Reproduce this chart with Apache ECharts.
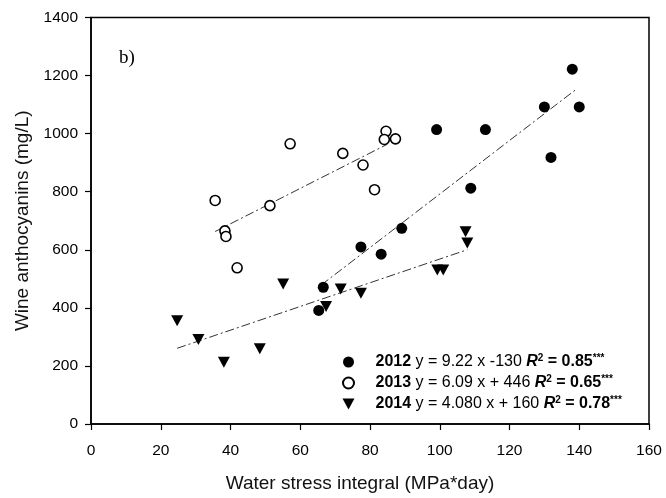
<!DOCTYPE html>
<html>
<head>
<meta charset="utf-8">
<script src="https://cdn.jsdelivr.net/npm/echarts@6/dist/echarts.min.js"></script>
<style>html,body{margin:0;padding:0;background:#fff}#c{width:666px;height:498px}</style>
</head>
<body>
<div id="c"></div>
<script>
var xTicks = [0, 20, 40, 60, 80, 100, 120, 140, 160];
var yTicks = [0, 200, 400, 600, 800, 1000, 1200, 1400];

var x2012 = [138.0, 130.0, 140.0, 99.1, 113.1, 131.9, 108.9, 89.1, 77.4, 83.2, 66.6, 65.3];
var y2012 = [1222, 1092, 1092, 1014, 1014, 918, 812, 674, 610, 585, 471, 391];

var x2013 = [57.1, 72.2, 84.6, 84.1, 87.3, 78.0, 81.3, 35.6, 51.3, 38.4, 38.7, 41.9];
var y2013 = [965, 932, 1008, 980, 982, 892, 807, 770, 752, 665, 646, 538];

var x2014 = [24.7, 30.8, 38.1, 48.4, 55.1, 67.4, 71.6, 77.4, 107.4, 107.9, 99.3, 101.0];
var y2014 = [356, 291, 213, 259, 482, 405, 465, 450, 662, 623, 530, 530];

var fit2012 = {slope: 9.22, intercept: -130, from: 66, to: 139.3};
var fit2013 = {slope: 6.09, intercept: 446, from: 35.6, to: 85};
var fit2014 = {slope: 4.080, intercept: 160, from: 24.7, to: 107.9};

var legendText = {
  '2012': '{b|2012} y = 9.22 x -130 {bi|R}{sup|2}{b| = 0.85}{sup|***}',
  '2013': '{b|2013} y = 6.09 x + 446 {bi|R}{sup|2}{b| = 0.65}{sup|***}',
  '2014': '{b|2014} y = 4.080 x + 160 {bi|R}{sup|2}{b| = 0.78}{sup|***}'
};

function pairs(xs, ys) { return xs.map(function (x, i) { return [x, ys[i]]; }); }
function fitLine(f) { return [[f.from, f.slope * f.from + f.intercept], [f.to, f.slope * f.to + f.intercept]]; }

var tri = 'path://M0,0 L12,0 L6,11 Z';
var fitStyle = {color: '#333', width: 1, type: [9, 3, 2, 3]};
var font = 'Liberation Sans';

var chart = echarts.init(document.getElementById('c'), null, {renderer: 'canvas'});
chart.setOption({
  animation: false,
  backgroundColor: '#fff',
  grid: {left: 91, right: 17, top: 17.5, bottom: 72.5, show: true, borderColor: '#000', borderWidth: 1.5, backgroundColor: 'transparent'},
  xAxis: {
    type: 'value', min: 0, max: 160, interval: 20,
    name: 'Water stress integral (MPa*day)', nameLocation: 'middle', nameGap: 50,
    nameTextStyle: {fontFamily: font, fontSize: 19, color: '#111', padding: [0, 20, 0, 0]},
    axisLine: {show: true, onZero: false, lineStyle: {color: '#000', width: 1.5}},
    axisTick: {show: true, inside: false, length: 6, lineStyle: {color: '#000', width: 1.2}},
    axisLabel: {fontFamily: font, fontSize: 15.5, color: '#000', margin: 19, formatter: function (v) { return xTicks.indexOf(v) >= 0 ? String(v) : ''; }},
    splitLine: {show: false}
  },
  yAxis: {
    type: 'value', min: 0, max: 1400, interval: 200,
    name: 'Wine anthocyanins (mg/L)', nameLocation: 'middle', nameGap: 59, nameRotate: 90,
    nameTextStyle: {fontFamily: font, fontSize: 19, color: '#111'},
    axisLine: {show: true, onZero: false, lineStyle: {color: '#000', width: 1.5}},
    axisTick: {show: true, inside: false, length: 6, lineStyle: {color: '#000', width: 1.2}},
    axisLabel: {fontFamily: font, fontSize: 15.5, color: '#000', margin: 13, formatter: function (v) { return yTicks.indexOf(v) >= 0 ? String(v) : ''; }},
    splitLine: {show: false}
  },
  legend: {
    data: [
      {name: '2012', icon: 'circle'},
      {name: '2013', icon: 'circle'},
      {name: '2014', icon: tri}
    ],
    orient: 'vertical', left: 337, top: 348,
    itemWidth: 28, itemHeight: 11, itemGap: 3,
    selectedMode: false,
    formatter: function (n) { return legendText[n]; },
    textStyle: {
      fontFamily: font, fontSize: 16, color: '#000', lineHeight: 18, padding: [0, 0, 0, 8],
      rich: {
        b: {fontFamily: font, fontSize: 16, fontWeight: 'bold', color: '#000', lineHeight: 18},
        bi: {fontFamily: font, fontSize: 16, fontWeight: 'bold', fontStyle: 'italic', color: '#000', lineHeight: 18},
        sup: {fontFamily: font, fontSize: 10, fontWeight: 'bold', color: '#000', verticalAlign: 'top', lineHeight: 18}
      }
    }
  },
  graphic: [{
    type: 'text', left: 119, top: 49,
    style: {text: 'b)', fontFamily: 'Liberation Serif', fontSize: 19, fill: '#000'}
  }],
  series: [
    {name: '2012', type: 'scatter', data: pairs(x2012, y2012), symbol: 'circle', symbolSize: 11,
     itemStyle: {color: '#000', borderColor: '#000', borderWidth: 0, opacity: 1}, z: 3},
    {name: '2013', type: 'scatter', data: pairs(x2013, y2013), symbol: 'circle', symbolSize: 10,
     itemStyle: {color: '#fff', borderColor: '#000', borderWidth: 1.6, opacity: 1}, z: 3},
    {name: '2014', type: 'scatter', data: pairs(x2014, y2014), symbol: tri, symbolSize: [12, 11],
     itemStyle: {color: '#000', opacity: 1}, z: 3},
    {name: 'fit2012', type: 'line', data: fitLine(fit2012), showSymbol: false, symbol: 'none', lineStyle: fitStyle, z: 2},
    {name: 'fit2013', type: 'line', data: fitLine(fit2013), showSymbol: false, symbol: 'none', lineStyle: fitStyle, z: 2},
    {name: 'fit2014', type: 'line', data: fitLine(fit2014), showSymbol: false, symbol: 'none', lineStyle: fitStyle, z: 2}
  ]
});
</script>
</body>
</html>
